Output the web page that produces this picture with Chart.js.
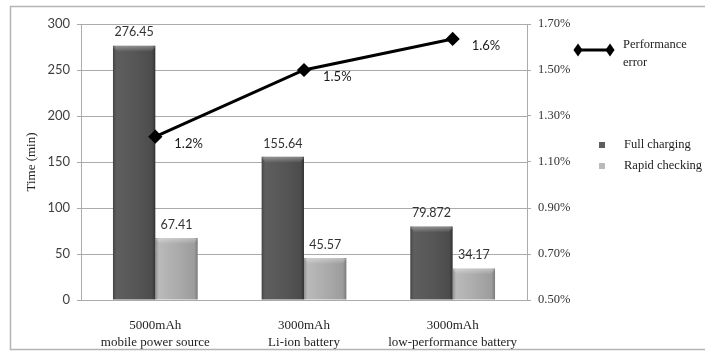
<!DOCTYPE html>
<html>
<head>
<meta charset="utf-8">
<script src="https://cdn.jsdelivr.net/npm/chart.js@4/dist/chart.umd.min.js"></script>
<style>
  html, body { margin: 0; padding: 0; background: #fff; }
  #wrap { width: 705px; height: 351px; }
</style>
</head>
<body>
<div id="wrap"><canvas id="comboChart" width="705" height="351"></canvas></div>
<script>
const categories = [
    ['5000mAh', 'mobile power source'],
    ['3000mAh', 'Li-ion battery'],
    ['3000mAh', 'low-performance battery']
];
const fullCharging = [276.45, 155.64, 79.872];
const rapidChecking = [67.41, 45.57, 34.17];
const performanceError = [1.21, 1.5, 1.635];
const errorLabels = ['1.2%', '1.5%', '1.6%'];
const timeTicks = [0, 50, 100, 150, 200, 250, 300];
const errorTicks = [0.5, 0.7, 0.9, 1.1, 1.3, 1.5, 1.7];

const SANS = 'Lato, "Noto Sans", sans-serif';
const SERIF = '"Liberation Serif", "DejaVu Serif", serif';
const GRID = '#ababab';
const CAT_PCT = 0.57;

// horizontal shading so the bars look a bit like the 3D excel columns
function barShade(side, stops) {
    return (c) => {
        const chart = c.chart;
        const xs = chart.scales.x;
        if (!xs || !chart.chartArea || c.dataIndex === undefined) return stops[2];
        const cx = xs.getPixelForValue(c.dataIndex);
        const w = xs.width / categories.length * CAT_PCT / 2;
        const x0 = side < 0 ? cx - w : cx;
        const g = chart.ctx.createLinearGradient(x0, 0, x0 + w, 0);
        g.addColorStop(0, stops[0]);
        g.addColorStop(0.08, stops[1]);
        g.addColorStop(0.5, stops[2]);
        g.addColorStop(0.92, stops[3]);
        g.addColorStop(1, stops[4]);
        return g;
    };
}

const darkStops = ['#454545', '#5e5e5e', '#575757', '#4c4c4c', '#333333'];
const lightStops = ['#909090', '#bababa', '#acacac', '#9c9c9c', '#7a7a7a'];

// light bevel on top of each column
const bevelPlugin = {
    id: 'bevel',
    afterDatasetsDraw(chart) {
        const ctx = chart.ctx;
        ctx.save();
        chart.data.datasets.forEach((ds, di) => {
            if (ds.type !== 'bar') return;
            chart.getDatasetMeta(di).data.forEach((el) => {
                const left = el.x - el.width / 2;
                const g = ctx.createLinearGradient(0, el.y, 0, el.y + 6);
                g.addColorStop(0, 'rgba(255,255,255,0.35)');
                g.addColorStop(1, 'rgba(255,255,255,0)');
                ctx.fillStyle = g;
                ctx.beginPath();
                ctx.moveTo(left, el.y + 1);
                ctx.lineTo(left + 4, el.y);
                ctx.lineTo(left + el.width - 4, el.y);
                ctx.lineTo(left + el.width, el.y + 1);
                ctx.lineTo(left + el.width - 4, el.y + 6);
                ctx.lineTo(left + 4, el.y + 6);
                ctx.closePath();
                ctx.fill();
            });
        });
        ctx.restore();
    }
};

const labelPlugin = {
    id: 'valueLabels',
    afterDatasetsDraw(chart) {
        const ctx = chart.ctx;
        ctx.save();
        chart.data.datasets.forEach((ds, di) => {
            const meta = chart.getDatasetMeta(di);
            meta.data.forEach((el, i) => {
                if (ds.type === 'line') {
                    ctx.font = '13px ' + SANS;
                    ctx.fillStyle = '#1a1a1a';
                    ctx.textAlign = 'left';
                    ctx.textBaseline = 'middle';
                    ctx.fillText(errorLabels[i], el.x + 19, el.y + 7);
                } else {
                    ctx.font = '12.5px ' + SANS;
                    ctx.fillStyle = '#333';
                    ctx.textAlign = 'center';
                    ctx.textBaseline = 'bottom';
                    ctx.fillText(String(ds.data[i]), el.x, el.y - 7);
                }
            });
        });
        ctx.restore();
    }
};

function diamond(ctx, x, y, r) {
    ctx.beginPath();
    ctx.moveTo(x, y - r);
    ctx.lineTo(x + r * 0.7, y);
    ctx.lineTo(x, y + r);
    ctx.lineTo(x - r * 0.7, y);
    ctx.closePath();
    ctx.fill();
}

const legendPlugin = {
    id: 'sideLegend',
    afterDraw(chart) {
        const ctx = chart.ctx;
        const ds = chart.data.datasets;
        ctx.save();
        // line entry
        ctx.strokeStyle = '#000';
        ctx.fillStyle = '#000';
        ctx.lineWidth = 3;
        ctx.beginPath();
        ctx.moveTo(578, 50);
        ctx.lineTo(610, 50);
        ctx.stroke();
        diamond(ctx, 578, 50, 6.5);
        diamond(ctx, 610, 50, 6.5);
        ctx.font = '12.5px ' + SERIF;
        ctx.fillStyle = '#222';
        ctx.textAlign = 'left';
        ctx.textBaseline = 'middle';
        const words = ds[0].label.split(' ');
        ctx.fillText(words[0], 623, 45);
        ctx.fillText(words.slice(1).join(' '), 623, 63);
        // bar entries
        [[ds[1], darkStops[1], 145], [ds[2], lightStops[1], 166]].forEach(([d, col, y]) => {
            ctx.fillStyle = col;
            ctx.fillRect(599, y - 3, 6, 6);
            ctx.fillStyle = '#222';
            ctx.fillText(d.label, 624, y);
        });
        // frame
        ctx.strokeStyle = '#b4b4b4';
        ctx.lineWidth = 1.5;
        ctx.beginPath();
        ctx.moveTo(705, 6.5);
        ctx.lineTo(10.5, 6.5);
        ctx.lineTo(10.5, 349.5);
        ctx.lineTo(705, 349.5);
        ctx.stroke();
        ctx.restore();
    }
};

const ctx = document.getElementById('comboChart').getContext('2d');

new Chart(ctx, {
    data: {
        labels: categories,
        datasets: [{
            type: 'line',
            label: 'Performance error',
            data: performanceError,
            yAxisID: 'y1',
            borderColor: '#000',
            borderWidth: 3,
            pointStyle: 'rectRot',
            pointRadius: 5,
            pointBackgroundColor: '#000',
            pointBorderColor: '#000',
            tension: 0,
            order: 0
        }, {
            type: 'bar',
            label: 'Full charging',
            data: fullCharging,
            yAxisID: 'y',
            backgroundColor: barShade(-1, darkStops),
            barPercentage: 1,
            categoryPercentage: CAT_PCT,
            order: 1
        }, {
            type: 'bar',
            label: 'Rapid checking',
            data: rapidChecking,
            yAxisID: 'y',
            backgroundColor: barShade(1, lightStops),
            barPercentage: 1,
            categoryPercentage: CAT_PCT,
            order: 1
        }]
    },
    options: {
        responsive: false,
        animation: false,
        layout: { padding: { top: 24, left: 0, right: 0, bottom: 0 } },
        plugins: {
            legend: { display: false },
            tooltip: { enabled: false }
        },
        scales: {
            x: {
                grid: { display: false },
                border: { display: false },
                ticks: {
                    color: '#222',
                    padding: 9,
                    maxRotation: 0,
                    font: { family: SERIF, size: 13, lineHeight: 1.3 }
                },
                afterFit: (s) => { s.height = 51; }
            },
            y: {
                position: 'left',
                min: timeTicks[0],
                max: timeTicks[timeTicks.length - 1],
                afterBuildTicks: (s) => { s.ticks = timeTicks.map(v => ({ value: v })); },
                grid: { color: GRID, tickLength: 4, lineWidth: 1 },
                border: { display: true, color: GRID },
                ticks: {
                    color: '#404040',
                    padding: 7,
                    font: { family: SANS, size: 13 }
                },
                title: {
                    display: true,
                    text: 'Time (min)',
                    color: '#222',
                    padding: { top: 24, bottom: 0 },
                    font: { family: SERIF, size: 13 }
                },
                afterFit: (s) => { s.width = 81; }
            },
            y1: {
                position: 'right',
                min: errorTicks[0],
                max: errorTicks[errorTicks.length - 1],
                afterBuildTicks: (s) => { s.ticks = errorTicks.map(v => ({ value: v })); },
                grid: { drawOnChartArea: false, color: GRID, tickLength: 4 },
                border: { display: true, color: GRID },
                ticks: {
                    color: '#333',
                    padding: 7,
                    font: { family: SERIF, size: 12.5 },
                    callback: (v) => v.toFixed(2) + '%'
                },
                afterFit: (s) => { s.width = 178; }
            }
        }
    },
    plugins: [bevelPlugin, labelPlugin, legendPlugin]
});
</script>
</body>
</html>
